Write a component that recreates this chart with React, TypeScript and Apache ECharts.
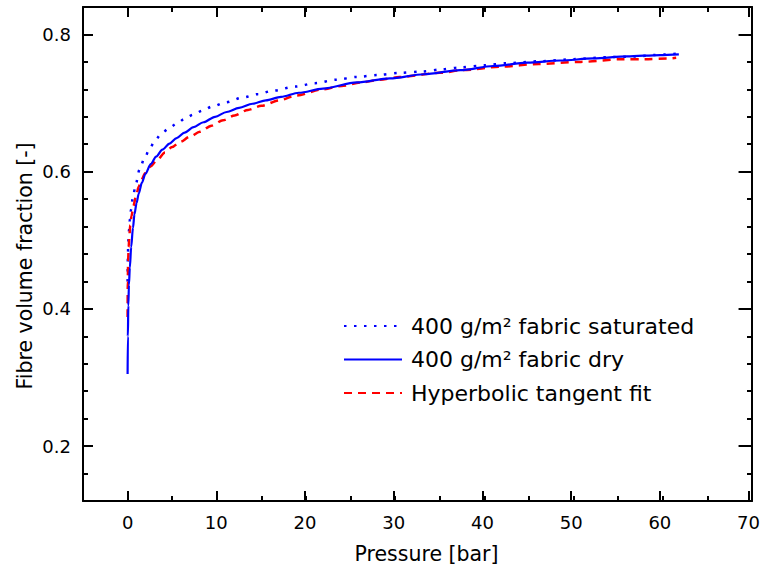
import React, { useEffect, useRef } from "react";
import * as echarts from "echarts";

// ---- Data ----
const satPressure = [0, 0.03, 0.08, 0.15, 0.25, 0.37, 0.6, 0.9, 1.34, 1.9, 2.5, 3.0, 3.7, 4.6, 5.5, 6.4, 7.33, 8.4, 9.5, 11.0, 12.9, 14.6, 16.3, 18.8, 21.0, 23.4, 25.7, 28.1, 30.5, 33.0, 35.2, 37.3, 40.0, 42.4, 46.3, 50.0, 54.1, 57.0, 59.0, 61.7];
const satFraction = [0.44, 0.475, 0.5, 0.515, 0.53, 0.544, 0.563, 0.581, 0.603, 0.62, 0.634, 0.644, 0.654, 0.663, 0.67, 0.677, 0.683, 0.689, 0.695, 0.701, 0.708, 0.713, 0.718, 0.724, 0.729, 0.734, 0.738, 0.741, 0.744, 0.746, 0.749, 0.752, 0.755, 0.758, 0.761, 0.764, 0.767, 0.768, 0.77, 0.772];

const dryPressure = [0, 0.03, 0.08, 0.15, 0.25, 0.4, 0.6, 0.77, 1.0, 1.25, 1.6, 2.0, 2.6, 3.2, 3.9, 4.7, 5.5, 6.4, 7.4, 8.5, 9.8, 11.1, 12.5, 14.0, 15.5, 17.2, 19.2, 21.9, 25.7, 29.4, 33.2, 37.3, 41.0, 44.8, 48.5, 52.2, 56.0, 59.7, 61.8];
const dryFraction = [0.305, 0.36, 0.405, 0.435, 0.46, 0.49, 0.518, 0.538, 0.554, 0.568, 0.584, 0.597, 0.611, 0.622, 0.632, 0.641, 0.649, 0.657, 0.665, 0.672, 0.68, 0.687, 0.693, 0.699, 0.704, 0.709, 0.715, 0.721, 0.73, 0.736, 0.742, 0.748, 0.754, 0.759, 0.762, 0.765, 0.768, 0.77, 0.771];

const fitPressure = [0, 0.02, 0.06, 0.12, 0.2, 0.3, 0.45, 0.65, 0.95, 1.25, 1.53, 2.0, 2.6, 3.3, 4.2, 5.0, 5.84, 7.0, 8.1, 9.4, 10.7, 12.0, 13.5, 15.0, 17.0, 18.9, 21.9, 24.0, 26.2, 28.3, 30.5, 35.0, 37.6, 41.8, 46.1, 50.8, 55.6, 58.0, 60.5, 61.5];
const fitFraction = [0.388, 0.44, 0.47, 0.49, 0.507, 0.522, 0.536, 0.55, 0.565, 0.578, 0.588, 0.598, 0.608, 0.617, 0.628, 0.636, 0.643, 0.651, 0.658, 0.667, 0.675, 0.682, 0.69, 0.696, 0.704, 0.711, 0.72, 0.725, 0.73, 0.734, 0.738, 0.744, 0.748, 0.753, 0.757, 0.76, 0.764, 0.764, 0.765, 0.766];

const seriesNames = ["400 g/m² fabric saturated", "400 g/m² fabric dry", "Hyperbolic tangent fit"];
const xAxisTitle = "Pressure [bar]";
const yAxisTitle = "Fibre volume fraction [-]";

// axis ranges / tick steps
const X_MIN = -5, X_MAX = 70, X_MINOR = 5, X_MAJOR_MIN = 0, X_MAJOR = 10;
const Y_MIN = 0.12, Y_MAX = 0.84, Y_MINOR = 0.04, Y_MAJOR_MIN = 0.2, Y_MAJOR_MAX = 0.8, Y_MAJOR = 0.2;

// layout
const W = 763, H = 573;
const GL = 83, GT = 7, GW = 669, GH = 494;
const FONT = "DejaVu Sans";

function zip(xs: number[], ys: number[]) {
  return xs.map((x, i) => [x, ys[i]]);
}

export default function App() {
  const ref = useRef<HTMLDivElement>(null);
  useEffect(() => {
    if (!ref.current) return;
    const chart = echarts.init(ref.current, undefined, { renderer: "svg" });

    const left1 = GL + ((X_MAJOR_MIN - X_MIN) / (X_MAX - X_MIN)) * GW;
    const width1 = ((X_MAX - X_MAJOR_MIN) / (X_MAX - X_MIN)) * GW;
    const top1 = GT + ((Y_MAX - Y_MAJOR_MAX) / (Y_MAX - Y_MIN)) * GH;
    const height1 = ((Y_MAJOR_MAX - Y_MAJOR_MIN) / (Y_MAX - Y_MIN)) * GH;

    const line = { show: true, onZero: false, lineStyle: { color: "#000", width: 2 } };
    const noLine = { show: false, onZero: false };
    const minorTick = { show: true, inside: true, length: 5, lineStyle: { color: "#000", width: 2 } };
    const majorTick = { show: true, inside: true, length: 10, lineStyle: { color: "#000", width: 2 } };
    const label = { show: true, fontFamily: FONT, fontSize: 18, color: "#000", margin: 12 };

    const option: any = {
      animation: false,
      backgroundColor: "#fff",
      grid: [
        { left: GL, top: GT, width: GW, height: GH, containLabel: false },
        { left: left1, top: top1, width: width1, height: height1, containLabel: false },
      ],
      xAxis: [
        {
          type: "value", gridIndex: 0, position: "bottom", min: X_MIN, max: X_MAX, interval: X_MINOR,
          axisLine: line, axisTick: minorTick, axisLabel: { show: false }, splitLine: { show: false },
          name: xAxisTitle, nameLocation: "middle", nameGap: 42,
          nameTextStyle: { fontFamily: FONT, fontSize: 20.5, color: "#000", padding: [0, 0, 0, 18] },
        },
        {
          type: "value", gridIndex: 0, position: "top", min: X_MIN, max: X_MAX, interval: X_MINOR,
          axisLine: line, axisTick: minorTick, axisLabel: { show: false }, splitLine: { show: false },
        },
        {
          type: "value", gridIndex: 1, position: "bottom", min: X_MAJOR_MIN, max: X_MAX, interval: X_MAJOR,
          offset: GT + GH - (top1 + height1),
          axisLine: noLine, axisTick: majorTick, axisLabel: label, splitLine: { show: false },
        },
        {
          type: "value", gridIndex: 1, position: "top", min: X_MAJOR_MIN, max: X_MAX, interval: X_MAJOR,
          offset: top1 - GT,
          axisLine: noLine, axisTick: majorTick, axisLabel: { show: false }, splitLine: { show: false },
        },
      ],
      yAxis: [
        {
          type: "value", gridIndex: 0, position: "left", min: Y_MIN, max: Y_MAX, interval: Y_MINOR,
          axisLine: line, axisTick: minorTick, axisLabel: { show: false }, splitLine: { show: false },
          name: yAxisTitle, nameLocation: "middle", nameGap: 48,
          nameTextStyle: { fontFamily: FONT, fontSize: 20.5, color: "#000", padding: [0, 24, 0, 0] },
        },
        {
          type: "value", gridIndex: 0, position: "right", min: Y_MIN, max: Y_MAX, interval: Y_MINOR,
          axisLine: line, axisTick: minorTick, axisLabel: { show: false }, splitLine: { show: false },
        },
        {
          type: "value", gridIndex: 1, position: "left", min: Y_MAJOR_MIN, max: Y_MAJOR_MAX, interval: Y_MAJOR,
          offset: left1 - GL,
          axisLine: noLine, axisTick: majorTick,
          axisLabel: { ...label, formatter: (v: number) => v.toFixed(1) }, splitLine: { show: false },
        },
        {
          type: "value", gridIndex: 1, position: "right", min: Y_MAJOR_MIN, max: Y_MAJOR_MAX, interval: Y_MAJOR,
          offset: GL + GW - (left1 + width1),
          axisLine: noLine, axisTick: majorTick, axisLabel: { show: false }, splitLine: { show: false },
        },
      ],
      legend: {
        orient: "vertical",
        left: 338,
        top: 310,
        itemWidth: 58,
        itemHeight: 14,
        itemGap: 11.5,
        data: seriesNames,
        itemStyle: { opacity: 0 },
        textStyle: { fontFamily: FONT, fontSize: 22, color: "#000", padding: [0, 0, 0, 4] },
      },
      series: [
        {
          name: seriesNames[0], type: "line", xAxisIndex: 0, yAxisIndex: 0,
          data: zip(satPressure, satFraction), symbol: "none", smooth: 0.3, smoothMonotone: "x",
          lineStyle: { color: "#0000ff", width: 2.5, type: [2.5, 7.5] }, itemStyle: { color: "#0000ff" },
          z: 3,
        },
        {
          name: seriesNames[1], type: "line", xAxisIndex: 0, yAxisIndex: 0,
          data: zip(dryPressure, dryFraction), symbol: "none", smooth: 0.3, smoothMonotone: "x",
          lineStyle: { color: "#0000ff", width: 2.2, type: "solid" }, itemStyle: { color: "#0000ff" },
          z: 4,
        },
        {
          name: seriesNames[2], type: "line", xAxisIndex: 0, yAxisIndex: 0,
          data: zip(fitPressure, fitFraction), symbol: "none", smooth: 0.3, smoothMonotone: "x",
          lineStyle: { color: "#ff0000", width: 2.5, type: [8, 6] }, itemStyle: { color: "#ff0000" },
          z: 3,
        },
      ],
    };
    chart.setOption(option);
    return () => chart.dispose();
  }, []);
  return (
    <div
      ref={ref}
      style={{ position: "fixed", left: 0, top: 0, width: W, height: H, background: "#fff" }}
    />
  );
}
